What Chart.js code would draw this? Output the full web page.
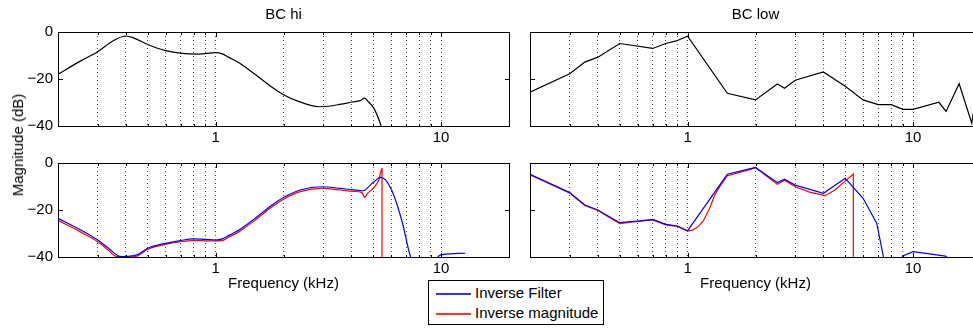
<!DOCTYPE html>
<html>
<head>
<meta charset="utf-8">
<script src="https://cdn.jsdelivr.net/npm/chart.js@4/dist/chart.umd.min.js"></script>
<style>
html,body{margin:0;padding:0;background:#fff;overflow:hidden;width:973px;height:329px;}
#wrap{position:relative;width:973px;height:329px;overflow:hidden;background:#fff;}
canvas{position:absolute;left:0;top:0;}
.txt{position:absolute;font-family:"Liberation Sans",Arial,sans-serif;font-size:15px;line-height:18px;color:#000;white-space:nowrap;}
#ylabel{left:17.5px;top:144.5px;transform:translate(-50%,-50%) rotate(-90deg);}
#legend{position:absolute;left:428px;top:280px;width:174px;height:43px;border:1px solid #000;background:#fff;}
.lgline{position:absolute;left:7px;width:35px;height:2px;opacity:0.8;}
.lgtext{position:absolute;left:46px;}
</style>
</head>
<body>
<div id="wrap">
  <canvas id="c1" width="995" height="329"></canvas>
  <canvas id="c2" width="995" height="329"></canvas>
  <canvas id="c3" width="995" height="329"></canvas>
  <canvas id="c4" width="995" height="329"></canvas>
  <div id="ylabel" class="txt">Magnitude (dB)</div>
  <div id="legend"></div>
</div>
<script>
// ---------------- data ----------------
const panelTitles = ['BC hi', 'BC low'];
const xAxisTitle = 'Frequency (kHz)';
const yAxisTitle = 'Magnitude (dB)';
const seriesNames = ['Inverse Filter', 'Inverse magnitude'];
const seriesColors = ['#0000ff', '#ff0000'];

const xMin = 0.2, xMax = 20;
const yMin = -40, yMax = 0;
const xGridValues = [0.3,0.4,0.5,0.6,0.7,0.8,0.9,1,2,3,4,5,6,7,8,9,10];
const xTickLabels = [1, 10];
const yTickValues = [0, -20, -40];

// BC hi, top (magnitude)
const hiTopFreq = [0.2,0.25,0.3,0.35,0.4,0.43,0.5,0.6,0.71,0.84,1.0,1.07,1.14,1.27,1.5,1.78,2.0,2.33,2.86,3.17,3.6,4.03,4.38,4.58,4.77,5.03,5.43,5.8];
const hiTopMag  = [-18,-12.5,-8.4,-3.8,-1.7,-2.4,-5.3,-7.9,-9.1,-9.4,-8.8,-9.3,-10.7,-13.1,-18.1,-23.5,-26.7,-29.5,-31.8,-31.6,-30.7,-29.8,-29.2,-28.1,-29.8,-32.4,-40.2,-50];

// BC low, top (magnitude)
const lowTopFreq = [0.2,0.3,0.35,0.4,0.5,0.7,0.8,0.89,1.0,1.5,2.0,2.5,2.69,3.0,4.0,5.0,6.0,7.0,8.0,9.0,10,13,14,16,18.2,20];
const lowTopMag  = [-25.6,-17.8,-12.8,-10.7,-4.9,-7.0,-4.9,-3.8,-1.8,-26.1,-28.9,-22.1,-23.9,-20.5,-17.0,-23.1,-28.9,-30.9,-30.9,-32.9,-32.9,-29.9,-33.8,-22.0,-38.8,-14];

// BC hi, bottom: inverse filter
const hiFiltFreq = [0.2,0.25,0.3,0.34,0.371,0.384,0.41,0.448,0.5,0.6,0.7,0.79,0.9,1.0,1.07,1.15,1.27,1.5,1.78,2.0,2.37,2.96,3.57,4.1,4.51,4.85,5.15,5.38,5.67,6.16,6.71,7.31,8.3,9.76,10.27,12.8];
const hiFiltMag  = [-23.5,-28.3,-32.8,-36.8,-39.6,-39.8,-39.7,-39.1,-36.3,-34.2,-33.0,-32.3,-32.5,-32.8,-32.3,-30.7,-28.5,-23.5,-17.9,-14.7,-11.5,-10.1,-10.8,-11.4,-11.8,-9.4,-7.2,-6.1,-7.2,-13.6,-24.9,-39.8,-50,-39.6,-38.9,-38.4];
// BC hi, bottom: inverse magnitude
const hiInvFreq = [0.2,0.25,0.3,0.34,0.359,0.404,0.448,0.5,0.6,0.7,0.79,0.9,1.0,1.07,1.15,1.27,1.5,1.78,2.0,2.37,2.96,3.57,4.1,4.46,4.57,4.72,5.03,5.29,5.47,5.471];
const hiInvMag  = [-24.4,-29.2,-33.5,-37.7,-39.6,-40.1,-39.6,-36.7,-34.6,-33.5,-33.0,-33.1,-33.2,-33.0,-31.4,-29.2,-24.3,-18.6,-15.4,-12.2,-10.8,-11.5,-12.1,-12.6,-14.6,-12.9,-10.5,-7.2,-2.3,-80];

// BC low, bottom: inverse filter
const lowFiltFreq = [0.2,0.3,0.35,0.4,0.5,0.6,0.7,0.8,0.9,1.0,1.5,1.92,2.0,2.5,2.69,3.0,4.0,5.0,6.0,6.9,7.38,8.2,9.0,10.0,13.9,16];
const lowFiltMag  = [-4.8,-12.6,-17.9,-20.0,-25.4,-24.7,-24.0,-26.1,-26.8,-28.8,-4.8,-2.3,-2.0,-8.3,-6.9,-9.4,-12.9,-6.5,-15.0,-25.7,-39.8,-50,-39.6,-37.7,-39.6,-44];
// BC low, bottom: inverse magnitude
const lowInvFreq = [0.2,0.3,0.35,0.4,0.5,0.6,0.7,0.8,0.9,1.0,1.05,1.1,1.17,1.25,1.32,1.4,1.5,1.92,2.0,2.2,2.5,2.69,3.0,3.5,4.07,4.5,5.0,5.43,5.431];
const lowInvMag  = [-5.0,-12.8,-18.1,-20.2,-25.8,-24.9,-24.2,-26.3,-27.0,-29.0,-28.6,-27.5,-24.9,-19.5,-13.6,-9.5,-5.4,-2.6,-1.8,-5.0,-9.1,-7.3,-10.1,-12.5,-13.9,-11.5,-7.7,-4.7,-80];

// ---------------- drawing ----------------
Chart.defaults.font.family = '"Liberation Sans", Arial, sans-serif';
Chart.defaults.font.size = 15;
Chart.defaults.color = '#000';

const toXY = (xs, ys) => xs.map((x, i) => ({x: x, y: ys[i]}));
const W = 995, H = 329;

const framePlugin = {
  id: 'frame',
  afterDraw(chart) {
    const {ctx, chartArea: a, scales} = chart;
    ctx.save();
    ctx.strokeStyle = '#000';
    ctx.lineWidth = 1;
    ctx.setLineDash([]);
    ctx.strokeRect(a.left + 0.5, a.top + 0.5, a.right - a.left, a.bottom - a.top);
    ctx.beginPath();
    yTickValues.forEach(v => {
      const py = Math.round(scales.y.getPixelForValue(v)) + 0.5;
      ctx.moveTo(a.left, py); ctx.lineTo(a.left + 5, py);
      ctx.moveTo(a.right + 1, py); ctx.lineTo(a.right - 4, py);
    });
    xGridValues.forEach(v => {
      const px = Math.round(scales.x.getPixelForValue(v)) + 0.5;
      const L = xTickLabels.includes(v) ? 5 : 3;
      ctx.moveTo(px, a.top); ctx.lineTo(px, a.top + L);
      ctx.moveTo(px, a.bottom + 1); ctx.lineTo(px, a.bottom + 1 - L);
    });
    ctx.stroke();
    ctx.restore();
  }
};

function line(data, color, smooth) {
  return {
    data: data, borderColor: color, borderWidth: 1.2, pointRadius: 0, fill: false,
    tension: 0, cubicInterpolationMode: smooth ? 'monotone' : 'default'
  };
}

function makePanel(id, area, opts) {
  const XH = opts.xTitle ? 40 : 30;
  const titleH = 18 + 8.5;
  const padding = {
    left: opts.yLabels ? 0 : area.left,
    top: opts.title ? area.top - titleH : area.top,
    right: W - area.right,
    bottom: H - area.bottom - XH
  };
  return new Chart(document.getElementById(id), {
    type: 'line',
    data: {datasets: opts.datasets},
    options: {
      responsive: false, animation: false, devicePixelRatio: 1, events: [],
      layout: {padding: padding},
      plugins: {
        legend: {display: false},
        tooltip: {enabled: false},
        title: {display: !!opts.title, text: opts.title || '', fullSize: false, color: '#000',
                font: {size: 15, weight: 'normal'}, padding: {top: 0, bottom: 8.5}}
      },
      scales: {
        x: {
          type: 'logarithmic', position: 'bottom', min: xMin, max: xMax,
          afterBuildTicks: s => { s.ticks = xGridValues.map(v => ({value: v})); },
          afterFit: s => { s.height = XH; },
          ticks: {autoSkip: false, maxRotation: 0, minRotation: 0, padding: 3, color: '#000',
                  font: {size: 15}, callback: v => xTickLabels.includes(v) ? String(v) : ''},
          grid: {display: true, drawTicks: false, color: '#505050', lineWidth: 1},
          border: {display: false, dash: [1, 3]},
          title: {display: !!opts.xTitle, text: opts.xTitle || '', color: '#000',
                  font: {size: 15}, padding: {top: 0, bottom: 4.5}}
        },
        y: {
          type: 'linear', display: !!opts.yLabels, min: yMin, max: yMax,
          afterBuildTicks: s => { s.ticks = yTickValues.map(v => ({value: v})); },
          afterFit: s => { s.width = opts.yLabels ? area.left : 0; },
          ticks: {padding: 5, color: '#000', font: {size: 15},
                  callback: v => v < 0 ? '\u2212' + Math.abs(v) : String(v)},
          grid: {display: false, drawTicks: false},
          border: {display: false}
        }
      }
    },
    plugins: [framePlugin]
  });
}

const leftX = {left: 58, right: 509};
const rightX = {left: 530, right: 981};
const topY = {top: 32, bottom: 126};
const botY = {top: 163, bottom: 257};

makePanel('c1', Object.assign({}, leftX, topY), {
  yLabels: true, title: panelTitles[0],
  datasets: [line(toXY(hiTopFreq, hiTopMag), '#000', true)]
});
makePanel('c2', Object.assign({}, rightX, topY), {
  yLabels: false, title: panelTitles[1],
  datasets: [line(toXY(lowTopFreq, lowTopMag), '#000', false)]
});
makePanel('c3', Object.assign({}, leftX, botY), {
  yLabels: true, xTitle: xAxisTitle,
  datasets: [line(toXY(hiFiltFreq, hiFiltMag), seriesColors[0], true),
             line(toXY(hiInvFreq, hiInvMag), seriesColors[1], true)]
});
makePanel('c4', Object.assign({}, rightX, botY), {
  yLabels: false, xTitle: xAxisTitle,
  datasets: [line(toXY(lowFiltFreq, lowFiltMag), seriesColors[0], false),
             line(toXY(lowInvFreq, lowInvMag), seriesColors[1], false)]
});

// legend (built from series names/colours)
document.getElementById('ylabel').textContent = yAxisTitle;
const lg = document.getElementById('legend');
seriesNames.forEach((name, i) => {
  const cy = 12 + i * 20;
  const ln = document.createElement('div');
  ln.className = 'lgline';
  ln.style.top = (cy - 0.5) + 'px';
  ln.style.background = seriesColors[i];
  lg.appendChild(ln);
  const t = document.createElement('div');
  t.className = 'txt lgtext';
  t.style.top = (cy - 9) + 'px';
  t.textContent = name;
  lg.appendChild(t);
});
</script>
</body>
</html>
